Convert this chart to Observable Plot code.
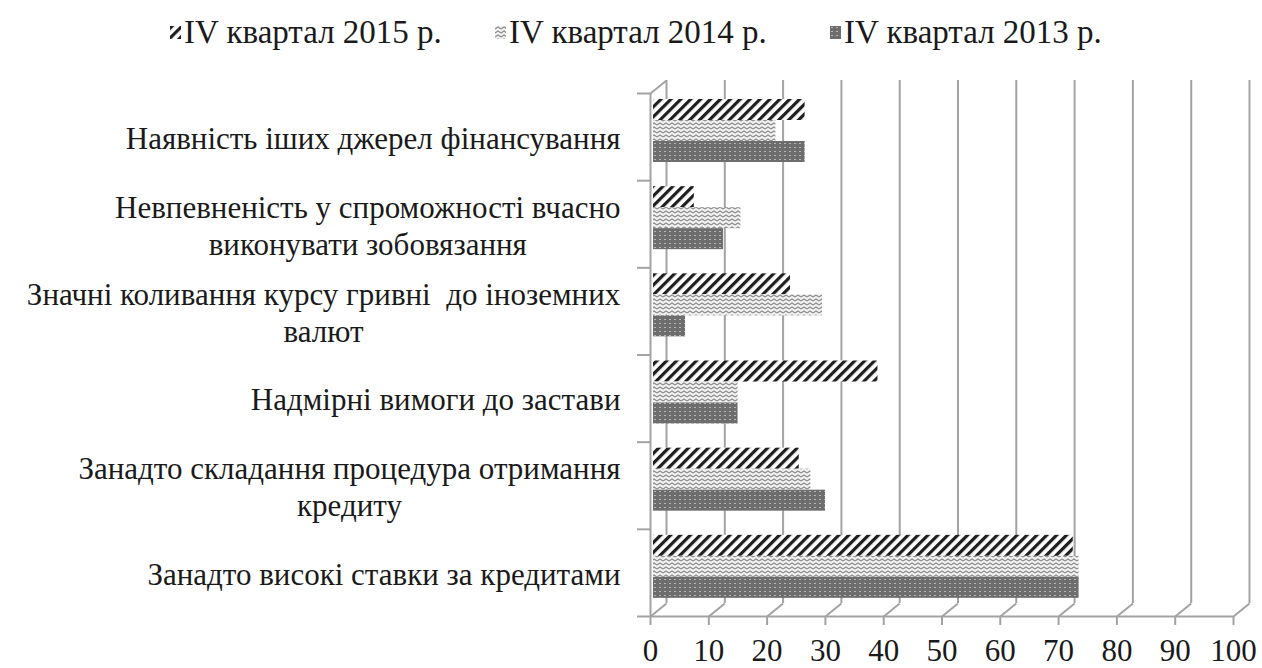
<!DOCTYPE html>
<html><head><meta charset="utf-8">
<script src="https://cdn.jsdelivr.net/npm/d3@7"></script>
<script src="https://cdn.jsdelivr.net/npm/@observablehq/plot@0.6"></script>
<style>body{margin:0;background:#fff}</style>
</head><body>
<svg width="0" height="0" style="position:absolute">
<defs>
<pattern id="p2015" patternUnits="userSpaceOnUse" width="7" height="7" patternTransform="rotate(45)">
<rect width="7" height="7" fill="#ffffff"/><rect width="3.2" height="7" fill="#1e1e1e"/>
</pattern>
<pattern id="p2014" patternUnits="userSpaceOnUse" width="6" height="4">
<rect width="6" height="4" fill="#f2f2f2"/><path d="M0,3 L3,1 L6,3" fill="none" stroke="#8d8d8d" stroke-width="1.3"/>
</pattern>
<pattern id="p2013" patternUnits="userSpaceOnUse" width="5" height="4">
<rect width="5" height="4" fill="#6d6d6d"/><rect x="1" y="1" width="2" height="1" fill="#b5b5b5"/>
</pattern>
</defs>
</svg>
<div id="legend" style="position:relative;height:62px;width:1262px"></div>
<div id="chart"></div>
<script>
// ---- data ----
const categories = [
  "Наявність іших джерел фінансування",
  "Невпевненість у спроможності вчасно виконувати зобовязання",
  "Значні коливання курсу гривні до іноземних валют",
  "Надмірні вимоги до застави",
  "Занадто складання процедура отримання кредиту",
  "Занадто високі ставки за кредитами"
];
const labelLines = [
  "Наявність іших джерел фінансування",
  "Невпевненість у спроможності вчасно\nвиконувати зобовязання",
  "Значні коливання курсу гривні  до іноземних\nвалют",
  "Надмірні вимоги до застави",
  "Занадто складання процедура отримання\nкредиту",
  "Занадто високі ставки за кредитами"
];
const series = ["IV квартал 2015 р.", "IV квартал 2014 р.", "IV квартал 2013 р."];
const patterns = ["url(#p2015)", "url(#p2014)", "url(#p2013)"];
const v2015 = [26, 7, 23.5, 38.5, 25, 72];
const v2014 = [21, 15, 29, 14.5, 27, 73];
const v2013 = [26, 12, 5.5, 14.5, 29.5, 73];
const xTicks = [0, 10, 20, 30, 40, 50, 60, 70, 80, 90, 100];

const FONT = "Liberation Serif";

// ---- legend ----
const legendLeft = [170, 495, 830];
const leg = document.getElementById("legend");
series.forEach((s, k) => {
  const d = document.createElement("div");
  d.style.position = "absolute";
  d.style.top = "12px";
  d.style.left = legendLeft[k] + "px";
  d.style.height = "40px";
  d.style.display = "flex";
  d.style.alignItems = "center";
  d.style.whiteSpace = "nowrap";
  const sw = document.createElementNS("http://www.w3.org/2000/svg", "svg");
  sw.setAttribute("width", 11); sw.setAttribute("height", 13);
  sw.style.marginRight = "3px";
  const r = document.createElementNS("http://www.w3.org/2000/svg", "rect");
  r.setAttribute("width", 11); r.setAttribute("height", 13); r.setAttribute("fill", patterns[k]);
  sw.appendChild(r);
  const sp = document.createElement("div");
  sp.textContent = s;
  sp.style.fontFamily = FONT;
  sp.style.fontSize = "33px";
  sp.style.color = "#1a1a1a";
  d.appendChild(sw); d.appendChild(sp);
  leg.appendChild(d);
});

// ---- chart ----
const W = 1262, H = 606, ML = 650, MR = 29, MT = 31, MB = 52;
const pxX = (W - ML - MR) / 100;
const n = categories.length;
const bandPx = (H - MT - MB) / n;
const depthX = 16 / pxX, depthY = 13 / bandPx;
const rows = categories.map((c, i) => ({c, i, label: labelLines[i]}));
const values = [v2015, v2014, v2013];
const barStart = 6, barH = 21;
const grid = "#a3a3a3";

const barMarks = values.map((v, k) => Plot.rect(rows, {
  x1: d => 0,
  x2: d => v[d.i],
  y1: d => n - d.i - (barStart + barH * k) / bandPx,
  y2: d => n - d.i - (barStart + barH * (k + 1)) / bandPx,
  fill: patterns[k],
  dx: 3
}));

const chart = Plot.plot({
  width: W, height: H,
  marginLeft: ML, marginRight: MR, marginTop: MT, marginBottom: MB,
  x: {domain: [0, 100], axis: null},
  y: {domain: [0, n], axis: null},
  marks: [
    Plot.ruleX(xTicks, {x: d => d, dx: 16, dy: -13, stroke: grid, strokeWidth: 2}),
    Plot.link(xTicks, {x1: d => d, y1: d => 0, x2: d => d + depthX, y2: d => depthY, stroke: grid, strokeWidth: 2}),
    Plot.link([0], {x1: d => d, y1: d => n, x2: d => d + depthX, y2: d => n + depthY, stroke: grid, strokeWidth: 2}),
    Plot.ruleY([0], {y: d => d, x1: d => 0, x2: d => 100, stroke: grid, strokeWidth: 2}),
    Plot.ruleX([0], {x: d => d, y1: d => 0, y2: d => n, stroke: grid, strokeWidth: 2}),
    Plot.ruleY(d3.range(n + 1), {y: d => d, x1: d => -13 / pxX, x2: d => 0, stroke: grid, strokeWidth: 2}),
    Plot.ruleX(xTicks, {x: d => d, y1: d => 0, y2: d => -9 / bandPx, stroke: grid, strokeWidth: 2}),
    ...barMarks,
    Plot.text(rows, {
      x: d => 0, y: d => n - d.i - 0.5, text: "label",
      dx: -30, textAnchor: "middle", lineAnchor: "middle", lineHeight: 1.2,
      fontSize: 31, fontFamily: FONT, fill: "#1a1a1a",
      ariaLabel: "catlabels"
    }),
    Plot.text(xTicks, {
      x: d => d, y: d => 0, text: d => String(d), dy: 35,
      fontSize: 31, fontFamily: FONT, fill: "#1a1a1a",
      lineAnchor: "middle", ariaLabel: "xticklabels"
    })
  ]
});
document.getElementById("chart").appendChild(chart);

// right-align category label blocks, lines centred inside the block
const lg = chart.querySelector('g[aria-label="catlabels"]') || chart.querySelectorAll('g[aria-label="text"]')[0];
if (lg) {
  lg.querySelectorAll("text").forEach(t => {
    const w = t.getBBox().width;
    const tr = t.getAttribute("transform") || "";
    t.setAttribute("transform", tr + ` translate(${-w / 2},0)`);
  });
}
</script>
</body></html>
